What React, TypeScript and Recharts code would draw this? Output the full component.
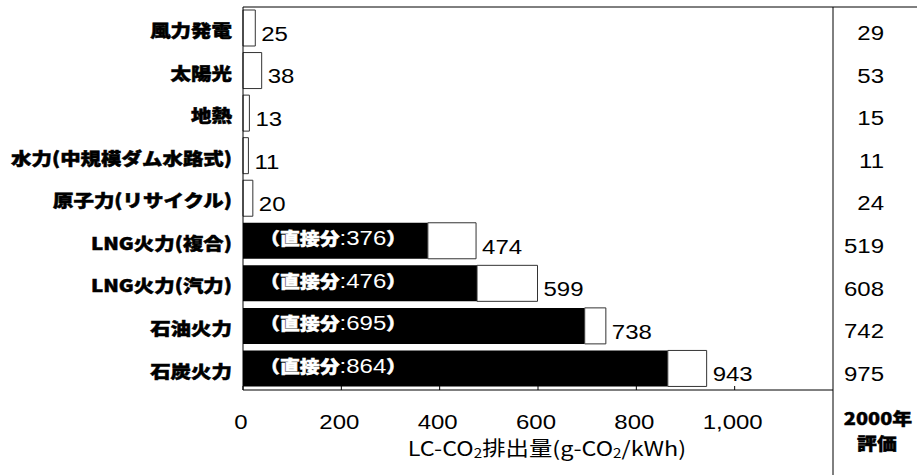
import { BarChart, Bar, XAxis, YAxis, LabelList, usePlotArea, useChartWidth, useChartHeight } from 'recharts';

// LC-CO2 by power source (g-CO2/kWh)
const categories = ['風力発電', '太陽光', '地熱', '水力(中規模ダム水路式)', '原子力(リサイクル)', 'LNG火力(複合)', 'LNG火力(汽力)', '石油火力', '石炭火力'];
const totalValues = [25, 38, 13, 11, 20, 474, 599, 738, 943];
const directValues = [0, 0, 0, 0, 0, 376, 476, 695, 864];
const values2000 = [29, 53, 15, 11, 24, 519, 608, 742, 975];
const xTicks = [0, 200, 400, 600, 800, 1000];

const data = categories.map((name, i) => ({
  name,
  total: totalValues[i],
  direct: directValues[i],
  indirect: totalValues[i] - directValues[i],
}));

const NUM = "'Liberation Sans', Arial, sans-serif";
const CJK = "'Noto Sans CJK JP', sans-serif";
const SX = 1.17; // the source picture is stretched sideways
const NUM_SIZE = 20.5;

const CategoryTick = ({ x, y, payload }) => (
  <text transform={`translate(${x - 11} ${y + 1}) scale(${SX} 1)`} textAnchor="end" dominantBaseline="central"
    fontFamily={CJK} fontWeight={900} fontSize={17.5} fill="#000" stroke="#000" strokeWidth={0.5}>
    {payload.value}
  </text>
);

const Value2000Tick = ({ x, y, index }) => (
  <text transform={`translate(${x + 51} ${y + 5}) scale(${SX} 1)`} textAnchor="end" dominantBaseline="central"
    fontFamily={NUM} fontSize={NUM_SIZE} fill="#000">
    {values2000[index]}
  </text>
);

const XTick = ({ x, y, payload }) => (
  <g>
    <line x1={x} x2={x} y1={y - 4} y2={y} stroke="#000" />
    <text transform={`translate(${x - 2} ${y + 32}) scale(${SX} 1)`} textAnchor="middle" dominantBaseline="central"
      fontFamily={NUM} fontSize={NUM_SIZE} fill="#000">
      {payload.value.toLocaleString('en-US')}
    </text>
  </g>
);

const AxisTitle = ({ viewBox }) => {
  const cx = viewBox.x + viewBox.width / 2 + 9;
  return (
    <text transform={`translate(${cx} ${viewBox.y + 57}) scale(${SX} 1)`} textAnchor="middle" dominantBaseline="central"
      fontFamily={CJK} fontSize={20} fill="#000">
      LC-CO<tspan fontSize={13} dy={5}>2</tspan><tspan dy={-5}>排出量(g-CO</tspan>
      <tspan fontSize={13} dy={5}>2</tspan><tspan dy={-5}>/kWh)</tspan>
    </text>
  );
};

const DirectLabel = ({ x, y, height, value }) => {
  if (!value) return null;
  return (
    <text transform={`translate(${Number(x) + 17} ${Number(y) + Number(height) / 2 - 3}) scale(${SX} 1)`}
      dominantBaseline="central" fill="#fff" fontSize={17}>
      <tspan fontFamily={CJK} fontWeight={900} stroke="#fff" strokeWidth={0.5}>（直接分</tspan>
      <tspan fontFamily={NUM} fontSize={NUM_SIZE}>:{value}</tspan>
      <tspan fontFamily={CJK} fontWeight={900} stroke="#fff" strokeWidth={0.5}>）</tspan>
    </text>
  );
};

const TotalLabel = ({ x, y, width, height, value }) => (
  <text transform={`translate(${Number(x) + Number(width) + 6} ${Number(y) + Number(height) / 2 + 6}) scale(${SX} 1)`}
    dominantBaseline="central" fontFamily={NUM} fontSize={NUM_SIZE} fill="#000">
    {value}
  </text>
);

const Frame = () => {
  const plot = usePlotArea();
  const w = useChartWidth();
  const h = useChartHeight();
  if (!plot) return null;
  const right = plot.x + plot.width;
  const mid = (right + w) / 2;
  const bottom = plot.y + plot.height;
  return (
    <g>
      <line x1={plot.x} x2={w} y1={plot.y} y2={plot.y} stroke="#000" />
      <line x1={right} x2={right} y1={plot.y} y2={h} stroke="#000" />
      <text transform={`translate(${mid + 3} ${bottom + 28}) scale(${SX} 1)`} textAnchor="middle" dominantBaseline="central"
        fontFamily={CJK} fontWeight={900} fontSize={17} fill="#000" stroke="#000" strokeWidth={0.4}>2000年</text>
      <text transform={`translate(${mid + 2} ${bottom + 53}) scale(${SX} 1)`} textAnchor="middle" dominantBaseline="central"
        fontFamily={CJK} fontWeight={900} fontSize={17} fill="#000" stroke="#000" strokeWidth={0.4}>評価</text>
    </g>
  );
};

export default function App() {
  return (
    <div style={{ width: 917, height: 475 }}>
      <style>{'body{margin:0}'}</style>
      <BarChart width={917} height={475} data={data} layout="vertical" barSize={36}
        margin={{ top: 7, right: 0, bottom: 0, left: 0 }}>
        <XAxis type="number" domain={[0, 1200]} ticks={xTicks} height={85} tickSize={0} tickMargin={0}
          tickLine={false} axisLine={{ stroke: '#000' }} tick={<XTick />} label={<AxisTitle />} />
        <YAxis type="category" dataKey="name" width={243} tickSize={0} tickMargin={0} tickLine={false}
          axisLine={{ stroke: '#000' }} tick={<CategoryTick />} />
        <YAxis yAxisId="r" orientation="right" type="category" dataKey="name" width={84} tickSize={0} tickMargin={0}
          tickLine={false} axisLine={false} tick={<Value2000Tick />} />
        <Bar dataKey="direct" stackId="a" fill="#000" isAnimationActive={false}>
          <LabelList dataKey="direct" content={<DirectLabel />} />
        </Bar>
        <Bar dataKey="indirect" stackId="a" fill="#fff" stroke="#333" isAnimationActive={false}>
          <LabelList dataKey="total" content={<TotalLabel />} />
        </Bar>
        <Frame />
      </BarChart>
    </div>
  );
}
